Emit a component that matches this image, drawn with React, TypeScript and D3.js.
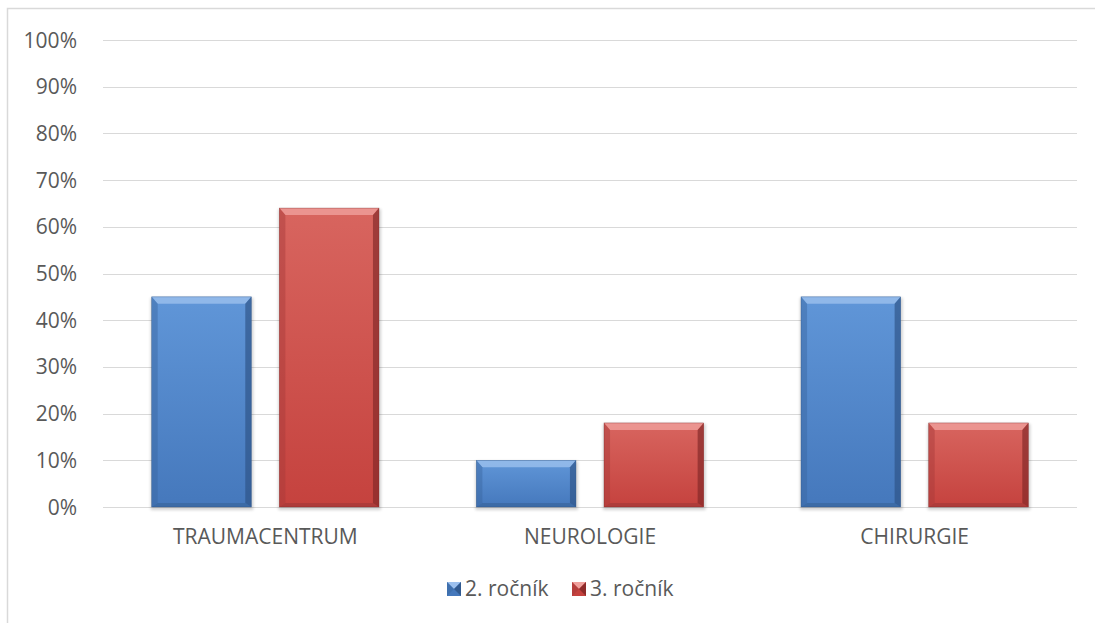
import React from "react";
import * as d3 from "d3";

const categories = ["TRAUMACENTRUM", "NEUROLOGIE", "CHIRURGIE"];
const seriesNames = ["2. ročník", "3. ročník"];
const year2 = [0.45, 0.10, 0.45];
const year3 = [0.64, 0.18, 0.18];
const yTicks = [0, 0.1, 0.2, 0.3, 0.4, 0.5, 0.6, 0.7, 0.8, 0.9, 1.0];

const W = 1095;
const H = 623;
const margin = { left: 103, right: 18, top: 40, bottom: 116 };

const palette = [
  { top: "#9cc0ee", light: "#6096d8", base: "#4578bc", dark: "#3a679f", edge: "#2c5284" },
  { top: "#f0a09c", light: "#d8655f", base: "#c5423e", dark: "#a6393a", edge: "#7f2626" },
];

type Colors = typeof palette[0];

function BevelBar({ x, y, w, h, c, id }: { x: number; y: number; w: number; h: number; c: Colors; id: string }) {
  const b = Math.min(7, h / 2);
  const sx = 6;
  const bb = 4;
  return (
    <g>
      <defs>
        <linearGradient id={id} x1="0" y1="0" x2="0" y2="1">
          <stop offset="0" stopColor={c.light} />
          <stop offset="1" stopColor={c.base} />
        </linearGradient>
      </defs>
      {/* soft drop shadow */}
      <rect x={x - 1} y={y + 1} width={w + 3} height={h + 2} fill="#000" opacity={0.18} filter="url(#shadowBlur)" />
      <rect x={x} y={y} width={w} height={h} fill={`url(#${id})`} />
      {/* top bevel */}
      <polygon points={`${x},${y} ${x + w},${y} ${x + w - sx},${y + b} ${x + sx},${y + b}`} fill={c.top} opacity={0.8} />
      {/* bottom bevel */}
      <polygon points={`${x},${y + h} ${x + w},${y + h} ${x + w - sx},${y + h - bb} ${x + sx},${y + h - bb}`} fill={c.dark} opacity={0.75} />
      {/* left bevel */}
      <polygon points={`${x},${y} ${x + sx},${y + b} ${x + sx},${y + h - bb} ${x},${y + h}`} fill={c.dark} opacity={0.45} />
      {/* right bevel */}
      <polygon points={`${x + w},${y} ${x + w - sx},${y + b} ${x + w - sx},${y + h - bb} ${x + w},${y + h}`} fill={c.edge} opacity={0.65} />
      <rect x={x} y={y} width={w} height={h} fill="none" stroke={c.edge} strokeWidth={0.6} opacity={0.6} />
    </g>
  );
}

function LegendSwatch({ x, y, c }: { x: number; y: number; c: Colors }) {
  const s = 14;
  return (
    <g>
      <rect x={x} y={y} width={s} height={s} fill={c.base} />
      <polygon points={`${x},${y} ${x + s},${y} ${x + s / 2},${y + s / 2}`} fill={c.top} />
      <polygon points={`${x + s},${y} ${x + s},${y + s} ${x + s / 2},${y + s / 2}`} fill={c.edge} opacity={0.8} />
      <polygon points={`${x},${y} ${x},${y + s} ${x + s / 2},${y + s / 2}`} fill={c.dark} opacity={0.5} />
    </g>
  );
}

export default function App() {
  const plotW = W - margin.left - margin.right;
  const x0 = d3.scaleBand<string>().domain(categories).range([margin.left, margin.left + plotW]).paddingInner(0.3).paddingOuter(0.15);
  const x1 = d3.scaleBand<string>().domain(seriesNames).range([0, x0.bandwidth()]).paddingInner(0.22);
  const y = d3.scaleLinear().domain([0, 1]).range([H - margin.bottom, margin.top]);
  const series = [year2, year3];
  const font = "'Open Sans', 'Noto Sans', sans-serif";
  const textColor = "#595959";
  const fs = 21;

  // legend entries laid out left to right below the plot
  const legendX = [447, 572];

  return (
    <svg width={W} height={H} style={{ position: "absolute", left: 0, top: 0 }}>
      <defs>
        <filter id="shadowBlur" x="-10%" y="-10%" width="120%" height="120%">
          <feGaussianBlur stdDeviation="1.5" />
        </filter>
      </defs>
      <rect x={0} y={0} width={W} height={H} fill="#fff" />
      <path d={`M7.5,${H} V8.5 H${W}`} fill="none" stroke="#d9d9d9" strokeWidth={1.5} />
      {yTicks.map((t) => (
        <g key={t}>
          <line x1={margin.left} x2={W - margin.right} y1={Math.round(y(t)) + 0.5} y2={Math.round(y(t)) + 0.5} stroke="#d9d9d9" strokeWidth={1} />
          <text x={77} y={y(t)} dy="0.36em" textAnchor="end" fontFamily={font} fontSize={fs} fill={textColor}>
            {d3.format(".0%")(t)}
          </text>
        </g>
      ))}
      {categories.map((cat, i) => (
        <g key={cat}>
          {series.map((vals, s) => {
            const bx = (x0(cat) as number) + (x1(seriesNames[s]) as number);
            const by = y(vals[i]);
            return (
              <BevelBar key={s} id={`g${i}${s}`} x={bx} y={by} w={x1.bandwidth()} h={y(0) - by} c={palette[s]} />
            );
          })}
          <text x={(x0(cat) as number) + x0.bandwidth() / 2} y={544} textAnchor="middle" fontFamily={font} fontSize={fs} fill={textColor}>
            {cat}
          </text>
        </g>
      ))}
      <g>
        {seriesNames.map((name, s) => (
          <g key={name}>
            <LegendSwatch x={legendX[s]} y={582} c={palette[s]} />
            <text x={legendX[s] + 18} y={596} fontFamily={font} fontSize={fs} fill={textColor}>{name}</text>
          </g>
        ))}
      </g>
    </svg>
  );
}
